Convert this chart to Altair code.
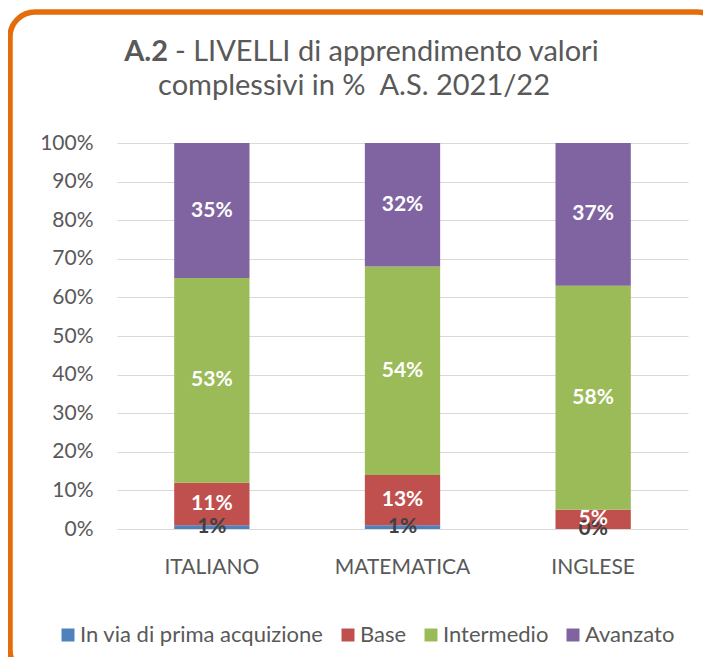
import altair as alt
import pandas as pd

categories = ["ITALIANO", "MATEMATICA", "INGLESE"]
levels = ["In via di prima acquizione", "Base", "Intermedio", "Avanzato"]
in_via = [1, 1, 0]
base_vals = [11, 13, 5]
intermedio = [53, 54, 58]
avanzato = [35, 32, 37]
colors = ["#4F81BD", "#C0504D", "#9BBB59", "#8064A2"]
y_ticks = [0, 0.1, 0.2, 0.3, 0.4, 0.5, 0.6, 0.7, 0.8, 0.9, 1.0]
title_bold = "A.2"
title_line1 = "- LIVELLI di apprendimento valori"
title_line2 = "complessivi in %\u00a0\u00a0A.S. 2021/22"

FONT = "Lato"
GRAY = "#595959"

rows = []
series = [in_via, base_vals, intermedio, avanzato]
for i, c in enumerate(categories):
    for j, lvl in enumerate(levels):
        v = series[j][i]
        rows.append({"cat": c, "level": lvl, "order": j, "value": v / 100, "label": f"{v}%"})
df = pd.DataFrame(rows)

stacked = alt.Chart(df).transform_stack(
    stack="value", groupby=["cat"], as_=["y0", "y1"], sort=[alt.SortField("order")]
).transform_calculate(mid="(datum.y0 + datum.y1) / 2")

x_axis = alt.Axis(labelAngle=0, ticks=False, domain=False, grid=False, labelPadding=27,
                  labelFontSize=21, labelColor=GRAY, labelFont=FONT)
y_axis = alt.Axis(values=y_ticks, tickCount=11, format=".0%", grid=True, gridColor="#D9D9D9",
                  domain=False, ticks=False, labelPadding=24, labelFontSize=21,
                  labelColor=GRAY, labelFont=FONT, labelOverlap=False)
x_scale = alt.Scale(paddingInner=0.605, paddingOuter=0.3)
y_scale = alt.Scale(domain=[0, 1], nice=False)

bars = stacked.mark_bar().encode(
    x=alt.X("cat:N", sort=categories, title=None, scale=x_scale, axis=x_axis),
    y=alt.Y("y0:Q", title=None, scale=y_scale, axis=y_axis),
    y2="y1:Q",
    color=alt.Color("level:N", scale=alt.Scale(domain=levels, range=colors),
                    legend=alt.Legend(orient="none", legendX=-60, legendY=481,
                                      direction="horizontal", title=None,
                                      symbolType="square", symbolSize=169,
                                      symbolStrokeWidth=0, labelFontSize=22,
                                      labelColor=GRAY, labelFont=FONT, labelLimit=0,
                                      labelOffset=1, columnPadding=13)),
    order=alt.Order("order:Q"),
)

labels = stacked.mark_text(font=FONT, fontSize=21, fontWeight="bold", baseline="middle").encode(
    x=alt.X("cat:N", sort=categories, title=None, scale=x_scale, axis=x_axis),
    y=alt.Y("mid:Q", title=None, scale=y_scale, axis=y_axis),
    text="label:N",
    color=alt.condition(alt.datum.order == 0, alt.value("#404040"), alt.value("white")),
)

one = pd.DataFrame({"a": [0]})
border = alt.Chart(one).mark_rect(
    fillOpacity=0, stroke="#E46C0A", strokeWidth=5.5, cornerRadius=25
).encode(x=alt.value(-107), x2=alt.value(605), y=alt.value(-131), y2=alt.value(532))

t_bold = alt.Chart(one).mark_text(
    font=FONT, fontSize=29, fontWeight="bold", color=GRAY, align="right", baseline="alphabetic"
).encode(x=alt.value(51), y=alt.value(-82), text=alt.value(title_bold))
t_l1 = alt.Chart(one).mark_text(
    font=FONT, fontSize=29, color=GRAY, align="left", baseline="alphabetic"
).encode(x=alt.value(58), y=alt.value(-82), text=alt.value(title_line1))
t_l2 = alt.Chart(one).mark_text(
    font=FONT, fontSize=29, color=GRAY, align="center", baseline="alphabetic"
).encode(x=alt.value(237), y=alt.value(-48), text=alt.value(title_line2))

chart = alt.layer(border, bars, labels, t_bold, t_l1, t_l2).properties(
    width=571, height=386,
    padding={"left": 109, "top": 135, "right": 15, "bottom": 128},
    autosize=alt.AutoSizeParams(type="none"),
).configure_view(stroke=None)

chart.save("out.html", embed_options={"renderer": "svg", "actions": False})
